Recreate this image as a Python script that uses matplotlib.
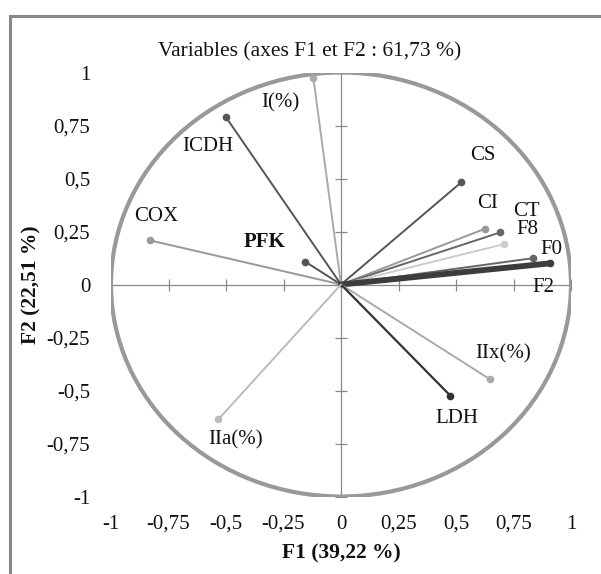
import matplotlib
matplotlib.use("Agg")
import matplotlib.pyplot as plt
import numpy as np
from matplotlib.patches import Ellipse, Rectangle

plt.rcParams['font.family'] = ['Liberation Serif', 'DejaVu Serif']

# Data
variables = ['I(%)', 'ICDH', 'COX', 'PFK', 'CS', 'CI', 'CT', 'F8', 'F0', 'F2', 'IIx(%)', 'LDH', 'IIa(%)']
f1 = [-0.12, -0.50, -0.83, -0.156, 0.523, 0.624, 0.693, 0.707, 0.834, 0.91, 0.646, 0.475, -0.533]
f2 = [0.973, 0.789, 0.208, 0.108, 0.482, 0.262, 0.246, 0.19, 0.124, 0.10, -0.446, -0.524, -0.636]
ticks = [-1, -0.75, -0.5, -0.25, 0, 0.25, 0.5, 0.75, 1]
tick_labels = ['-1', '-0,75', '-0,5', '-0,25', '0', '0,25', '0,5', '0,75', '1']
title = 'Variables (axes F1 et F2 : 61,73 %)'
xlab = 'F1 (39,22 %)'
ylab = 'F2 (22,51 %)'

# Styles
colors = ['#aaaaaa', '#555555', '#999999', '#555555', '#555555', '#999999', '#666666',
          '#cccccc', '#666666', '#3d3d3d', '#aaaaaa', '#333333', '#bbbbbb']
widths = [1.4, 1.4, 1.4, 1.4, 1.4, 1.4, 1.4, 1.4, 1.4, 4.2, 1.4, 1.6, 1.4]
offsets = [(-33, -25), (-18, -29), (6, 24), (-41, 20), (22, 27), (3, 25), (26, 21),
           (24, 15), (19, 9), (-7, -24), (14, 25), (7, -23), (17, -21)]
bold = {'PFK'}

W, H = 601, 574
fig = plt.figure(figsize=(W / 100, H / 100), dpi=100)
ax = fig.add_axes([111 / W, (H - 496.5) / H, 460 / W, 424 / H])
ax.set_xlim(-1, 1)
ax.set_ylim(-1, 1)
for s in ax.spines.values():
    s.set_visible(False)

# outer frame
fig.patches.append(Rectangle((9.5 / W, 0 - 0.05), 1.2, (H - 16) / H + 0.05, transform=fig.transFigure,
                             fill=False, edgecolor='#888888', linewidth=2.2))

# axes lines and cross ticks
ax.plot([-1, 1], [0, 0], color='#888888', lw=0.9, zorder=1)
ax.plot([0, 0], [-1, 1], color='#888888', lw=0.9, zorder=1)
ax.plot(ticks, [0] * len(ticks), ls='none', marker='|', ms=8, mew=0.9, color='#888888', zorder=1)
ax.plot([0] * len(ticks), ticks, ls='none', marker='_', ms=8, mew=0.9, color='#888888', zorder=1)

# circle
ax.add_patch(Ellipse((0, 0), 2, 2, fill=False, edgecolor='#999999', linewidth=3.0, zorder=2))

# vectors
for name, x, y, c, w, off in zip(variables, f1, f2, colors, widths, offsets):
    ax.plot([0, x], [0, y], color=c, lw=w, solid_capstyle='round', zorder=3)
    ax.plot([x], [y], marker='o', ms=4.5, color=c, zorder=4)
    ax.annotate(name, (x, y), xytext=off, textcoords='offset pixels', ha='center', va='center',
                fontsize=15, color='#111111', fontweight='bold' if name in bold else 'normal', zorder=5)

ax.set_xticks(ticks)
ax.set_xticklabels(tick_labels)
ax.set_yticks(ticks)
ax.set_yticklabels(tick_labels)
ax.tick_params(axis='both', length=0, labelsize=15, colors='#111111')
ax.tick_params(axis='x', pad=13)
ax.tick_params(axis='y', pad=15)

fig.text(310 / W, 1 - 52 / H, title, ha='center', va='center', fontsize=15.5, color='#111111')
fig.text(341 / W, 1 - 553 / H, xlab, ha='center', va='center', fontsize=15.5, fontweight='bold', color='#111111')
fig.text(31 / W, 1 - 285 / H, ylab, ha='center', va='center', rotation=90, fontsize=15.5,
         fontweight='bold', color='#111111')

fig.savefig('out.png', dpi=100)
